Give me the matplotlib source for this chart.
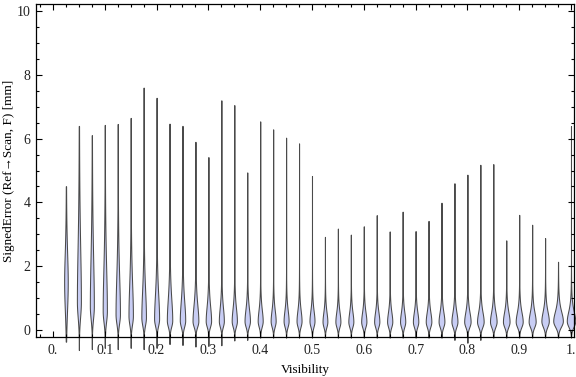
import numpy as np
import matplotlib.pyplot as plt
from matplotlib.ticker import MultipleLocator, FixedLocator

plt.rcParams['font.family'] = ['Liberation Serif', 'DejaVu Serif']

# violin positions (visibility bins)
pos = [0.025, 0.05, 0.075, 0.1, 0.125, 0.15, 0.175, 0.2, 0.225, 0.25,
       0.275, 0.3, 0.325, 0.35, 0.375, 0.4, 0.425, 0.45, 0.475, 0.5,
       0.525, 0.55, 0.575, 0.6, 0.625, 0.65, 0.675, 0.7, 0.725, 0.75,
       0.775, 0.8, 0.825, 0.85, 0.875, 0.9, 0.925, 0.95, 0.975, 1.0]
# max / min of each distribution
hi = [4.51, 6.40, 6.11, 6.43, 6.46, 6.65, 7.60, 7.28, 6.47, 6.40,
      5.90, 5.42, 7.20, 7.05, 4.94, 6.54, 6.29, 6.03, 5.85, 4.83,
      2.92, 3.18, 2.99, 3.25, 3.60, 3.09, 3.71, 3.10, 3.42, 3.99,
      4.60, 4.87, 5.18, 5.20, 2.81, 3.61, 3.30, 2.88, 2.14, 6.39]
lo = [-0.37, -0.63, -0.60, -0.56, -0.60, -0.56, -0.60, -0.56, -0.44, -0.47,
      -0.52, -0.50, -0.48, -0.33, -0.31, -0.24, -0.24, -0.24, -0.24, -0.24,
      -0.24, -0.24, -0.24, -0.24, -0.24, -0.24, -0.24, -0.24, -0.24, -0.24,
      -0.31, -0.40, -0.31, -0.24, -0.24, -0.24, -0.24, -0.24, -0.24, -0.24]
# mode, half width of bulge (px), spread below / above mode
mode = [1.50, 0.90, 0.75, 0.60, 0.50, 0.45, 0.40, 0.35, 0.30, 0.30,
        0.28, 0.28, 0.28, 0.28, 0.28, 0.28, 0.28, 0.28, 0.28, 0.28,
        0.26, 0.26, 0.26, 0.26, 0.26, 0.26, 0.26, 0.26, 0.26, 0.26,
        0.26, 0.26, 0.26, 0.26, 0.26, 0.26, 0.26, 0.28, 0.28, 0.28]
wpx = [1.8, 2.0, 2.0, 2.1, 2.2, 2.2, 2.3, 2.5, 2.7, 2.7,
       2.9, 2.7, 2.5, 2.6, 2.7, 2.5, 2.5, 2.5, 2.5, 2.5,
       2.4, 2.5, 2.5, 2.6, 2.6, 2.6, 2.6, 2.7, 2.8, 2.9,
       3.0, 3.2, 3.3, 3.3, 3.3, 3.5, 3.5, 3.7, 4.8, 4.2]
s_up = [1.10, 2.00, 1.80, 1.60, 1.40, 1.20, 1.00, 0.90, 0.80, 0.70,
        0.60, 0.55, 0.50, 0.48, 0.45, 0.42, 0.40, 0.40, 0.40, 0.38,
        0.36, 0.36, 0.36, 0.36, 0.36, 0.36, 0.36, 0.36, 0.36, 0.36,
        0.36, 0.36, 0.36, 0.36, 0.36, 0.36, 0.36, 0.36, 0.36, 0.36]
s_dn = [0.90, 0.50, 0.40, 0.35, 0.30, 0.28, 0.25, 0.22, 0.20, 0.20,
        0.18, 0.18, 0.18, 0.18, 0.18, 0.18, 0.18, 0.18, 0.18, 0.18,
        0.17, 0.17, 0.17, 0.17, 0.17, 0.17, 0.17, 0.17, 0.17, 0.17,
        0.17, 0.17, 0.17, 0.17, 0.17, 0.17, 0.17, 0.18, 0.18, 0.18]

fig = plt.figure(figsize=(5.76, 3.77), dpi=100)
ax = fig.add_axes([36/576, 1-337/377, 538/576, 333/377])

px = 1/518.
for i in range(len(pos)):
    y = np.linspace(lo[i], hi[i], 600)
    z = np.where(y > mode[i], (y-mode[i])/s_up[i], (y-mode[i])/s_dn[i])
    w = np.where(y > mode[i], (1 + z**2/3.)**-2, np.exp(-0.5*z**2))
    w = w*wpx[i]*px
    w[0] = 0; w[-1] = 0
    ax.fill_betweenx(y, pos[i]-w, pos[i]+w, facecolor='#c8cdf4',
                     edgecolor='#4a4a4a', linewidth=0.75, clip_on=False)

ax.set_xlim(-0.0328, 1.0058)
ax.set_ylim(-0.22, 10.22)

ax.xaxis.set_major_locator(FixedLocator([0.1*k for k in range(11)]))
ax.xaxis.set_minor_locator(MultipleLocator(0.025))
ax.set_xticklabels(['0.', '0.1', '0.2', '0.3', '0.4', '0.5', '0.6', '0.7', '0.8', '0.9', '1.'])
ax.yaxis.set_major_locator(MultipleLocator(2))
ax.yaxis.set_minor_locator(MultipleLocator(0.5))
ax.tick_params(which='both', direction='in', top=True, right=True,
               labelsize=10, labelcolor='#222222', width=0.8)
ax.tick_params(which='major', length=4)
ax.tick_params(which='minor', length=2.5)
ax.tick_params(axis='x', which='both', pad=5)
ax.tick_params(axis='y', pad=4)
for s in ax.spines.values():
    s.set_linewidth(0.9)

ax.set_xlabel('Visibility', fontsize=9.5, labelpad=5)
ax.set_ylabel('SignedError (Ref\u2192Scan, F) [mm]', fontsize=9.5, va='center')
ax.yaxis.set_label_coords(-27/538, 0.5)

fig.savefig('out.png', dpi=100)
